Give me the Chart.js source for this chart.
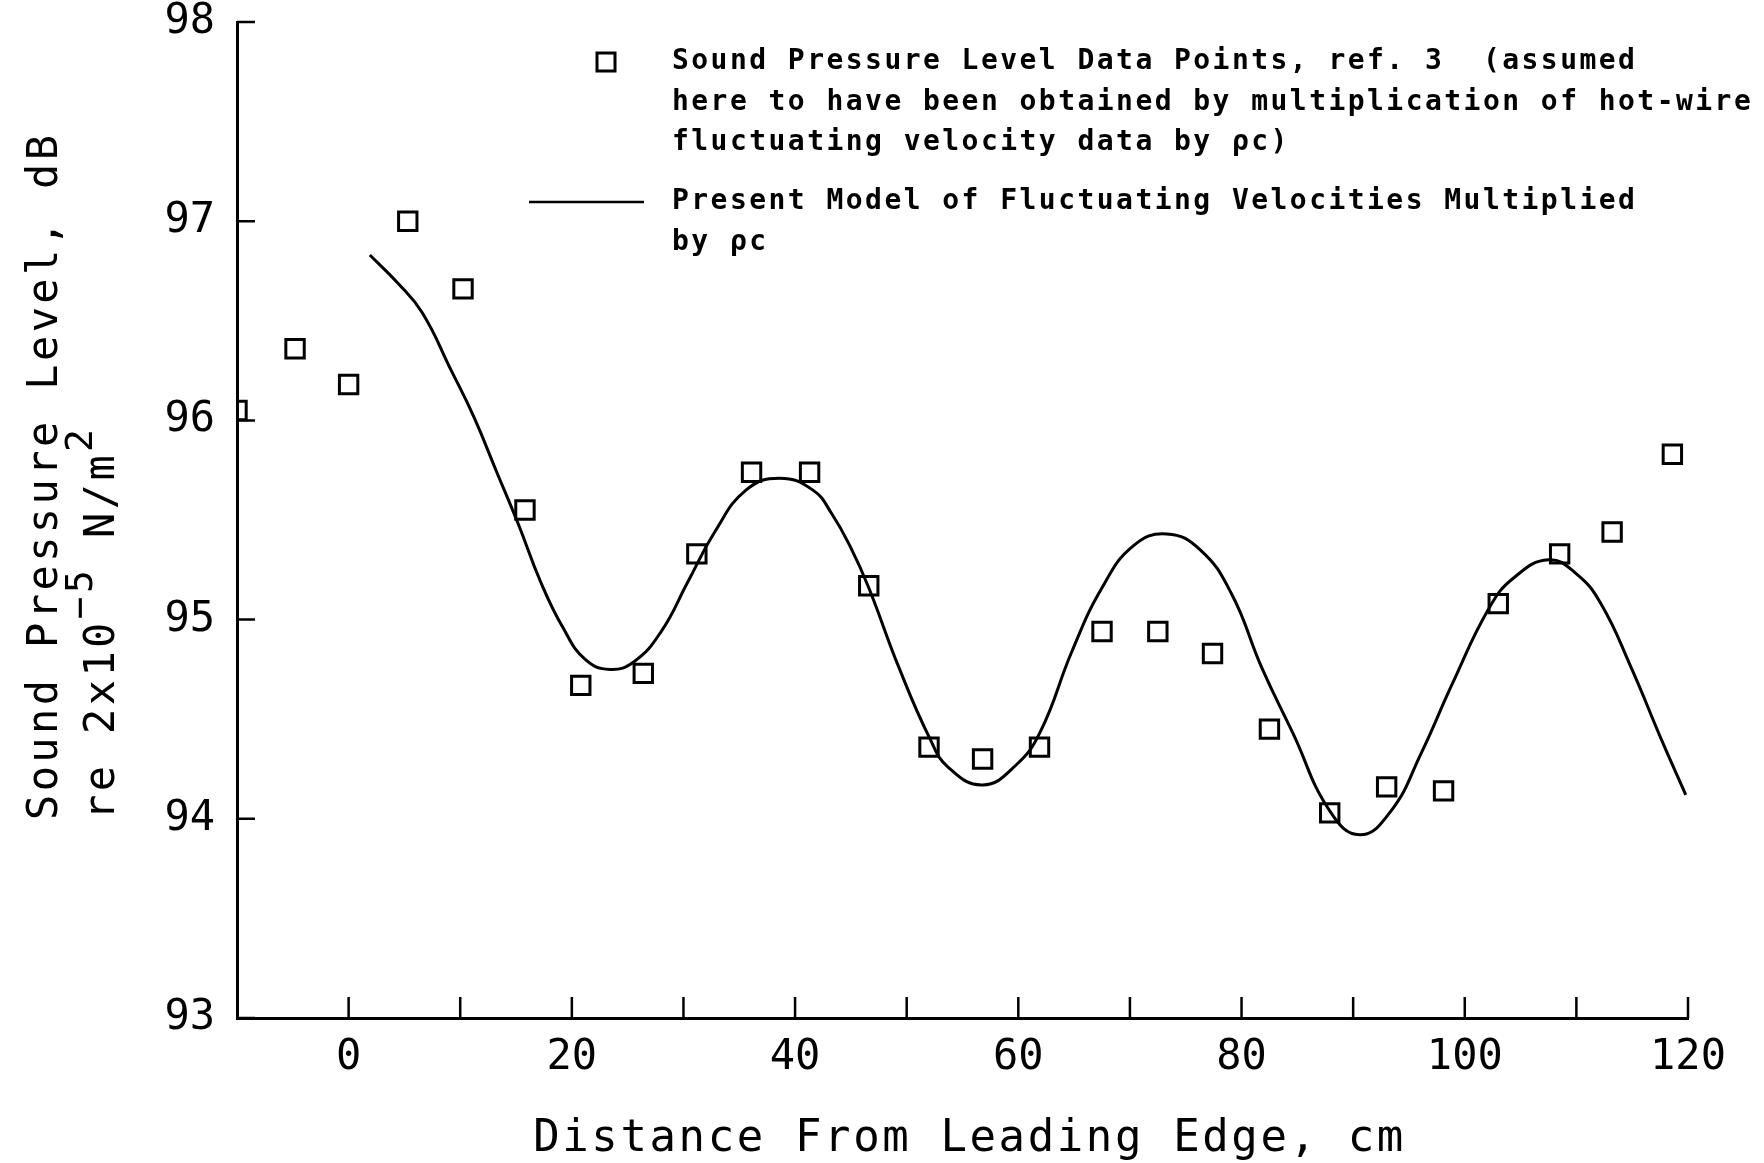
<!DOCTYPE html>
<html>
<head>
<meta charset="utf-8">
<script src="https://cdn.jsdelivr.net/npm/chart.js@4/dist/chart.umd.min.js"></script>
<style>
  html, body { margin: 0; padding: 0; background: #fff; }
  #wrap { width: 1764px; height: 1163px; }
</style>
</head>
<body>
<div id="wrap"><canvas id="c" width="1764" height="1163"></canvas></div>
<script>
// Sound pressure level data points, ref. 3 (distance in cm, level in dB)
const pointX = [-10, -4.8, 0.0, 5.3, 10.25, 15.8, 20.8, 26.4, 31.2, 36.1, 41.3, 46.6, 52.0,
                56.8, 61.9, 67.5, 72.5, 77.4, 82.5, 87.9, 93.0, 98.1, 103.0, 108.5, 113.2, 118.6];
const pointY = [96.05, 96.36, 96.18, 97.0, 96.66, 95.55, 94.67, 94.73, 95.33, 95.74, 95.74, 95.17, 94.36,
                94.30, 94.36, 94.94, 94.94, 94.83, 94.45, 94.03, 94.16, 94.14, 95.08, 95.33, 95.44, 95.83];

// Present model of fluctuating velocities multiplied by rho*c
const modelX = [1.9, 4.4, 6.6, 9.2, 11.2, 13.2, 15.2, 17.2, 19.2, 21.2, 23.4, 25.6, 28.0, 30.4, 32.8,
                35.6, 38.6, 41.6, 43.3, 45.0, 46.6, 49.3, 52.1, 53.7, 56.8, 59.8, 62.0, 64.8, 67.5, 70.3,
                73.3, 76.3, 79.1, 81.8, 84.6, 87.9, 90.6, 93.4, 96.1, 98.9, 102.2, 104.4, 107.5,
                110.0, 112.2, 114.9, 117.6, 119.8];
const modelY = [96.83, 96.69, 96.54, 96.25, 96.02, 95.75, 95.48, 95.19, 94.96, 94.80, 94.75, 94.79, 94.94,
                95.19, 95.44, 95.65, 95.71, 95.65, 95.53, 95.36, 95.16, 94.76, 94.40, 94.26, 94.17, 94.27,
                94.44, 94.84, 95.16, 95.37, 95.43, 95.35, 95.13, 94.76, 94.43, 94.04, 93.92, 94.04, 94.33,
                94.68, 95.06, 95.21, 95.30, 95.23, 95.08, 94.76, 94.40, 94.12];

// Axis ticks
const xTicks = [0, 20, 40, 60, 80, 100, 120];
const xMinorTicks = [10, 30, 50, 70, 90, 110];
const yTicks = [93, 94, 95, 96, 97, 98];

// Text
const xTitle = 'Distance From Leading Edge, cm';
const yTitleLine1 = 'Sound Pressure Level, dB';
const yTitleLine2 = [['re 2x10', false], ['\u22125', true], [' N/m', false], ['2', true]];
const legendPoints = ['Sound Pressure Level Data Points, ref. 3  (assumed',
                      'here to have been obtained by multiplication of hot-wire',
                      'fluctuating velocity data by \u03c1c)'];
const legendLine = ['Present Model of Fluctuating Velocities Multiplied', 'by \u03c1c'];

const MONO = '"DejaVu Sans Mono", monospace';

const decorations = {
  id: 'decorations',
  afterDraw(chart) {
    const ctx = chart.ctx;
    const xs = chart.scales.x, ys = chart.scales.y;
    const area = chart.chartArea;

    // inward tick marks
    ctx.save();
    ctx.strokeStyle = '#000';
    ctx.lineWidth = 2.5;
    ctx.beginPath();
    xTicks.concat(xMinorTicks).forEach(v => {
      const px = xs.getPixelForValue(v);
      ctx.moveTo(px, area.bottom);
      ctx.lineTo(px, area.bottom - 21);
    });
    yTicks.forEach(v => {
      const py = ys.getPixelForValue(v);
      ctx.moveTo(area.left, py);
      ctx.lineTo(area.left + 18, py);
    });
    ctx.stroke();
    ctx.restore();

    // x axis title
    ctx.save();
    ctx.fillStyle = '#000';
    ctx.font = '44px ' + MONO;
    ctx.letterSpacing = '2.6px';
    ctx.textAlign = 'center';
    ctx.textBaseline = 'alphabetic';
    ctx.fillText(xTitle, (area.left + area.right) / 2 + 7, 1151);
    ctx.restore();

    // y axis title, two rotated lines
    ctx.save();
    ctx.fillStyle = '#000';
    ctx.font = '42px ' + MONO;
    ctx.letterSpacing = '3.4px';
    ctx.textAlign = 'left';
    ctx.textBaseline = 'alphabetic';
    ctx.translate(57, 820);
    ctx.rotate(-Math.PI / 2);
    ctx.fillText(yTitleLine1, 0, 0);
    ctx.restore();

    ctx.save();
    ctx.fillStyle = '#000';
    ctx.letterSpacing = '3.4px';
    ctx.textAlign = 'left';
    ctx.textBaseline = 'alphabetic';
    ctx.translate(114, 820);
    ctx.rotate(-Math.PI / 2);
    let pos = 0;
    yTitleLine2.forEach(([txt, sup]) => {
      ctx.font = (sup ? '38px ' : '42px ') + MONO;
      ctx.fillText(txt, pos, sup ? -22 : 0);
      pos += ctx.measureText(txt).width;
    });
    ctx.restore();

    // legend
    ctx.save();
    ctx.fillStyle = '#000';
    ctx.strokeStyle = '#000';
    ctx.font = 'bold 28px ' + MONO;
    ctx.letterSpacing = '2.45px';
    ctx.textAlign = 'left';
    ctx.textBaseline = 'middle';
    ctx.lineWidth = 3;
    ctx.strokeRect(597, 53, 18, 18);
    legendPoints.forEach((t, i) => ctx.fillText(t, 672, 62 + i * 40.5));
    ctx.lineWidth = 2.5;
    ctx.beginPath();
    ctx.moveTo(529, 202);
    ctx.lineTo(644, 202);
    ctx.stroke();
    legendLine.forEach((t, i) => ctx.fillText(t, 672, 202 + i * 40.5));
    ctx.restore();
  }
};

new Chart(document.getElementById('c').getContext('2d'), {
  type: 'scatter',
  data: {
    datasets: [
      {
        label: 'Present Model',
        data: modelX.map((x, i) => ({ x, y: modelY[i] })),
        showLine: true,
        borderColor: '#000',
        borderWidth: 3,
        pointRadius: 0,
        tension: 0.45,
        fill: false
      },
      {
        label: 'Data Points',
        data: pointX.map((x, i) => ({ x, y: pointY[i] })),
        pointStyle: 'rect',
        pointRadius: 13,
        borderColor: '#000',
        borderWidth: 3,
        backgroundColor: 'rgba(0,0,0,0)',
        clip: 0
      }
    ]
  },
  options: {
    responsive: false,
    animation: false,
    devicePixelRatio: 1,
    layout: { padding: { top: 22, right: 76, left: 0, bottom: 0 } },
    plugins: { legend: { display: false }, tooltip: { enabled: false } },
    scales: {
      x: {
        type: 'linear',
        min: -10,
        max: 120,
        afterBuildTicks: s => { s.ticks = xTicks.map(v => ({ value: v })); },
        afterFit: s => { s.height = 145; s.paddingLeft = 0; s.paddingRight = 0; },
        ticks: {
          callback: v => String(v),
          font: { family: MONO, size: 42, lineHeight: 1 },
          color: '#000',
          padding: 19,
          maxRotation: 0,
          autoSkip: false
        },
        grid: { display: false, drawTicks: false },
        border: { display: true, color: '#000', width: 3 }
      },
      y: {
        type: 'linear',
        min: 93,
        max: 98,
        afterBuildTicks: s => { s.ticks = yTicks.map(v => ({ value: v })); },
        afterFit: s => { s.width = 237; s.paddingTop = 0; s.paddingBottom = 0; },
        ticks: {
          callback: v => String(v),
          font: { family: MONO, size: 42, lineHeight: 1 },
          color: '#000',
          padding: 22,
          autoSkip: false
        },
        grid: { display: false, drawTicks: false },
        border: { display: true, color: '#000', width: 3 }
      }
    }
  },
  plugins: [decorations]
});
</script>
</body>
</html>
